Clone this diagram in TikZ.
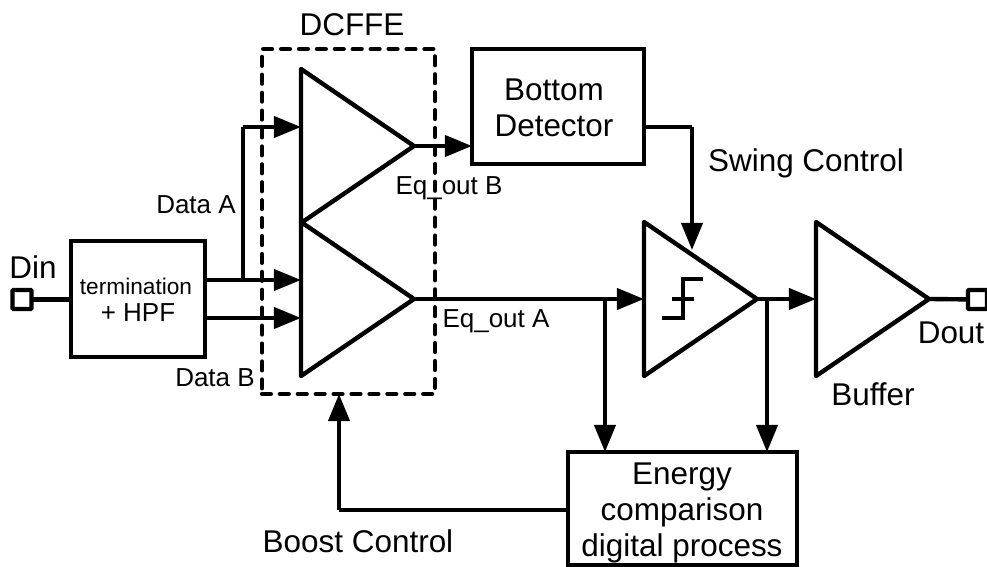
\documentclass[tikz,border=0pt]{standalone}
\usepackage{fontspec}
\setmainfont{Liberation Sans}
\usetikzlibrary{arrows.meta,calc,positioning,shapes.geometric}

\tikzset{
  wire/.style={line width=2.5pt},
  sig/.style={wire,-{Triangle[length=15.5pt,width=12pt]}},
  blockbox/.style={draw,line width=2.5pt,outer sep=0pt,inner sep=0pt,align=center},
  amp/.style={draw,line width=2.5pt,line join=round,isosceles triangle,isosceles triangle stretches,
    minimum height=113*0.02cm,minimum width=154*0.02cm,inner sep=0pt,outer sep=0pt,anchor=lower side},
  pad/.style={draw,line width=2.5pt,rounded corners=0.5pt,minimum size=19*0.02cm,inner sep=0pt,outer sep=0pt},
  biglab/.style={font=\fontsize{17.9}{20.6}\selectfont,align=center,inner sep=0pt},
  midlab/.style={font=\fontsize{14.8}{18}\selectfont,inner sep=0pt},
}

\begin{document}
\begin{tikzpicture}[x=0.02cm,y=-0.02cm]
  \clip (0,0) rectangle (987,567);
  \node[pad] (din) at (22,299.5) {};
  \node[pad] (dout) at (977.5,299.5) {};
  \node[blockbox,minimum width=134*0.02cm,minimum height=116*0.02cm] (term) at (138,299) {};
  \node[blockbox,minimum width=172*0.02cm,minimum height=115*0.02cm] (detector) at (558,106.5) {};
  \node[blockbox,minimum width=229*0.02cm,minimum height=113*0.02cm] (energy) at (682.5,508.5) {};
  \node[draw,line width=2.5pt,line cap=round,dash pattern=on 5pt off 5.2pt,minimum width=173*0.02cm,minimum height=345*0.02cm,
    inner sep=0pt,outer sep=0pt] (dcffe) at (348.5,221.5) {};
  \node[amp] (ampB) at (301,146) {};
  \node[amp] (ampA) at (301,299) {};
  \node[amp] (cmp) at (644,299) {};
  \node[amp] (buf) at (816,299) {};

  \coordinate (dataa) at (205,280);
  \coordinate (datab) at (205,318);
  \coordinate (databr) at (243,280);
  \coordinate (datatop) at (243,127);
  \coordinate (swingcorner) at (692,127);
  \coordinate (swingtip) at (692,250);
  \coordinate (tapA) at (605,299);
  \coordinate (tapC) at (767,299);
  \coordinate (boostcorner) at (339,510);

  \draw[wire] (din) -- (din -| term.west);
  \draw[sig] (dataa) -- (ampA.lower side |- dataa);
  \draw[sig] (datab) -- (ampA.lower side |- datab);
  \draw[wire] (databr) -- (datatop);
  \draw[sig] (datatop) -- (ampB.lower side |- datatop);
  \draw[sig] (ampB.apex) -- (ampB.apex -| detector.west);
  \draw[wire] (detector.east |- swingcorner) -- (swingcorner);
  \draw[sig] (swingcorner) -- (swingtip);
  \draw[sig] (ampA.apex) -- (cmp.lower side);
  \draw[sig] (cmp.apex) -- (buf.lower side);
  \draw[wire] (buf.apex) -- (dout);
  \draw[sig] (tapA) -- (tapA |- energy.north);
  \draw[sig] (tapC) -- (tapC |- energy.north);
  \draw[wire] (energy.west |- boostcorner) -- (boostcorner);
  \draw[sig] (boostcorner) -- (boostcorner |- dcffe.south);

  \draw[line width=2.2pt] (662,318) -- (683,318) -- (683,279) -- (703,279);
  \draw[line width=2.2pt] (672,299) -- (694,299);

  \node[biglab] (dinlab) at (33,267) {Din};
  \node[biglab] (doutlab) at (951,333) {Dout};
  \node[biglab] (dcffelab) at (352,25) {DCFFE};
  \node[biglab] (detlab) at (554,108) {Bottom\\Detector};
  \node[biglab] (swinglab) at (806,163) {Swing Control};
  \node[biglab] (buflab) at (873,394) {Buffer};
  \node[biglab] (boostlab) at (358,541) {Boost Control};
  \node[biglab] (energylab) at (682,513) {Energy\\comparison\\digital process};
  \node[midlab] (dataalab) at (196,205) {Data A};
  \node[midlab] (datablab) at (215,378) {Data B};
  \node[midlab] (eqblab) at (449,188) {Eq\_out B};
  \node[midlab] (eqalab) at (496,321) {Eq\_out A};
  \node[font=\fontsize{12.9}{15}\selectfont,inner sep=0pt] (termlab) at (136,286) {termination};
  \node[font=\fontsize{14.8}{18}\selectfont,inner sep=0pt] (hpflab) at (138,313) {+ HPF};
\end{tikzpicture}
\end{document}
